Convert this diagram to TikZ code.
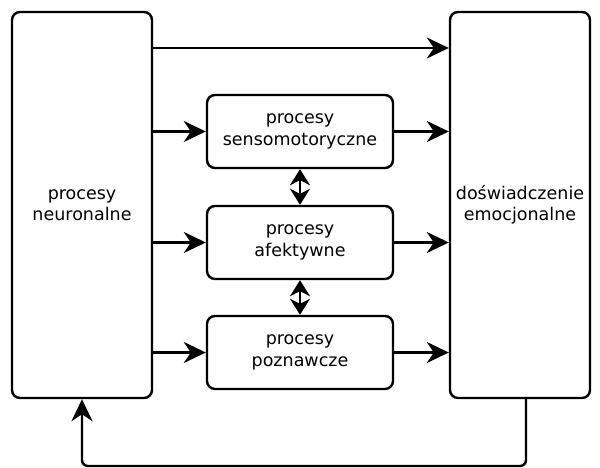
\documentclass[tikz,border=0pt]{standalone}
\usepackage{fontspec}
\setmainfont{DejaVu Sans}
\usetikzlibrary{positioning, arrows.meta}

\begin{document}
\begin{tikzpicture}[x=1pt, y=-1pt, line width=2.4pt,
  every node/.style={font=\fontsize{17.5}{21.5}\selectfont, align=center},
  box/.style={draw, rounded corners=8pt, inner sep=0pt},
  tall/.style={box, minimum width=140pt, minimum height=386pt},
  small/.style={box, minimum width=186pt, minimum height=73pt},
  arr/.style={-{Stealth[length=22pt, width=21pt, inset=7pt]}},
  dbl/.style={{Stealth[length=16pt, width=20pt, inset=5pt]}-{Stealth[length=16pt, width=20pt, inset=5pt]}}]
  \useasboundingbox (0,0) rectangle (600,468);
  \node[tall] (neur) at (82,205) {procesy\\neuronalne};
  \node[tall] (dosw) at (520,205) {doświadczenie\\emocjonalne};
  \node[small] (sens) at (300,131.5) {procesy\\sensomotoryczne};
  \node[small, below=35.6pt of sens] (afek) {procesy\\afektywne};
  \node[small, below=34.6pt of afek] (pozn) {procesy\\poznawcze};
  \coordinate (top) at (0,48);
  \coordinate (lp) at (82,466);
  \coordinate (rp) at (526,466);
  \draw[arr] (neur.east |- top) -- (dosw.west |- top);
  \foreach \n in {sens, afek, pozn} {
    \draw[arr] (neur.east |- \n) -- (\n.west);
    \draw[arr] (\n.east) -- (dosw.west |- \n);
  }
  \draw[dbl] (sens.south) -- (afek.north);
  \draw[dbl] (afek.south) -- (pozn.north);
  % sprzezenie zwrotne
  \draw[arr, rounded corners=6pt] (dosw.south -| rp) -- (rp) -- (lp) -- (neur.south -| lp);
\end{tikzpicture}
\end{document}
